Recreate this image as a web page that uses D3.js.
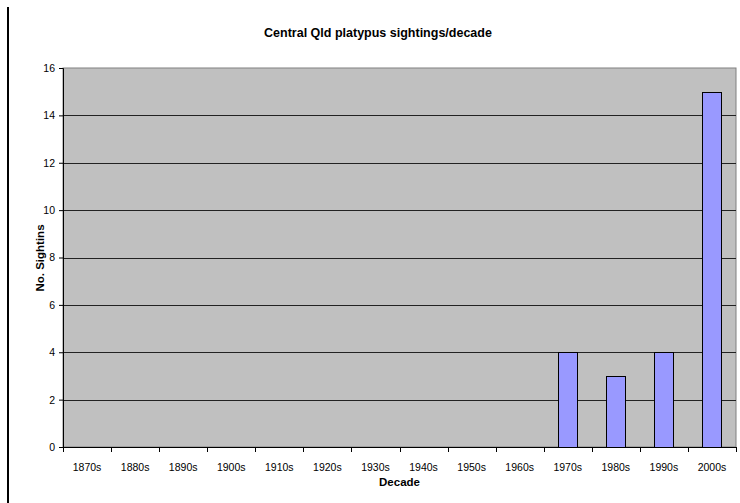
<!DOCTYPE html>
<html>
<head>
<meta charset="utf-8">
<script src="https://cdn.jsdelivr.net/npm/d3@7"></script>
<style>
  body { margin: 0; background: #fff; }
  text { font-family: "Liberation Sans", Arial, sans-serif; }
</style>
</head>
<body>
<div id="chart"></div>
<script>
// Data
const decades = ["1870s", "1880s", "1890s", "1900s", "1910s", "1920s", "1930s",
                 "1940s", "1950s", "1960s", "1970s", "1980s", "1990s", "2000s"];
const sightings = [0, 0, 0, 0, 0, 0, 0, 0, 0, 0, 4, 3, 4, 15];
const yTicks = [0, 2, 4, 6, 8, 10, 12, 14, 16];

const W = 740, H = 503;
const margin = {top: 68, right: 4, bottom: 56, left: 63},
      width = W - margin.left - margin.right,
      height = H - margin.top - margin.bottom;

const root = d3.select("#chart").append("svg")
    .attr("width", W)
    .attr("height", H);

// left border line
root.append("line")
    .attr("x1", 8).attr("x2", 8)
    .attr("y1", 7).attr("y2", H)
    .attr("stroke", "#000").attr("stroke-width", 2);

const svg = root.append("g")
    .attr("transform", `translate(${margin.left},${margin.top})`);

const x = d3.scaleBand()
    .domain(decades)
    .range([0, width])
    .paddingInner(0)
    .paddingOuter(0);

const y = d3.scaleLinear()
    .domain([0, 16])
    .range([height, 0]);

// plot background
svg.append("rect")
    .attr("width", width)
    .attr("height", height)
    .attr("fill", "#c0c0c0")
    .attr("stroke", "#808080");

// gridlines
svg.selectAll(".grid")
    .data(yTicks.filter(d => d > 0 && d < 16))
    .enter().append("line")
    .attr("x1", 0).attr("x2", width)
    .attr("y1", d => Math.round(y(d)) + 0.5)
    .attr("y2", d => Math.round(y(d)) + 0.5)
    .attr("stroke", "#222");

// bars
const bw = x.bandwidth() * 0.4;
svg.selectAll(".bar")
    .data(decades.map((d, i) => ({decade: d, value: sightings[i]})).filter(d => d.value > 0))
    .enter().append("rect")
    .attr("x", d => Math.round(x(d.decade) + (x.bandwidth() - bw) / 2) + 0.5)
    .attr("y", d => Math.round(y(d.value)) + 0.5)
    .attr("width", Math.round(bw))
    .attr("height", d => Math.round(height) - Math.round(y(d.value)))
    .attr("fill", "#9999ff")
    .attr("stroke", "#000");

// Y axis
const yAxis = svg.append("g")
    .call(d3.axisLeft(y).tickValues(yTicks).tickSize(4).tickPadding(4));
yAxis.select(".domain").attr("stroke", "#000");
yAxis.selectAll("text").style("font-size", "10.5px").attr("fill", "#000");

// X axis: ticks at category boundaries
const xg = svg.append("g")
    .attr("transform", `translate(0,${height})`);
xg.append("line")
    .attr("x1", 0).attr("x2", width)
    .attr("y1", 0.5).attr("y2", 0.5)
    .attr("stroke", "#000");
xg.selectAll(".tick")
    .data(decades.concat(["end"]))
    .enter().append("line")
    .attr("x1", (d, i) => Math.round(i * x.step()) + 0.5)
    .attr("x2", (d, i) => Math.round(i * x.step()) + 0.5)
    .attr("y1", 0).attr("y2", 5)
    .attr("stroke", "#000");
xg.selectAll(".lbl")
    .data(decades)
    .enter().append("text")
    .attr("x", d => x(d) + x.bandwidth() / 2)
    .attr("y", 24)
    .attr("text-anchor", "middle")
    .style("font-size", "10.5px")
    .text(d => d);

// Titles
root.append("text")
    .attr("x", 378).attr("y", 37)
    .attr("text-anchor", "middle")
    .style("font-size", "12.5px")
    .style("font-weight", "bold")
    .text("Central Qld platypus sightings/decade");

root.append("text")
    .attr("x", margin.left + width / 2).attr("y", 486)
    .attr("text-anchor", "middle")
    .style("font-size", "11.5px")
    .style("font-weight", "bold")
    .text("Decade");

root.append("text")
    .attr("transform", `translate(44,258) rotate(-90)`)
    .attr("text-anchor", "middle")
    .style("font-size", "11.5px")
    .style("font-weight", "bold")
    .text("No. Sightins");
</script>
</body>
</html>
